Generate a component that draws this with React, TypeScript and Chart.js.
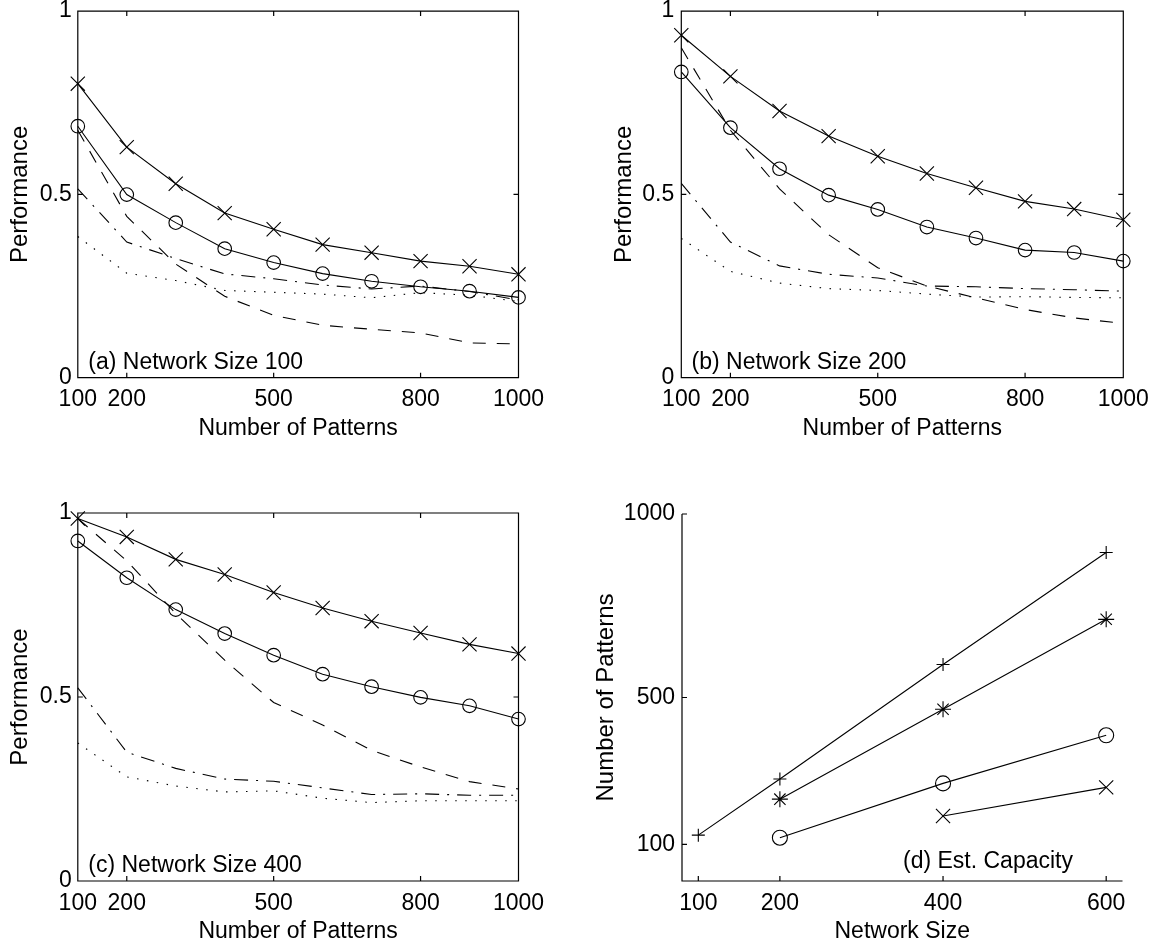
import React, { useEffect, useRef } from 'react';
import { Chart, registerables } from 'chart.js';

Chart.register(...registerables);

const FONT = '"Liberation Sans", Arial, Helvetica, sans-serif';

// ---------- data ----------
const patternCounts = [100, 200, 300, 400, 500, 600, 700, 800, 900, 1000];
const patternTicks = [100, 200, 500, 800, 1000];
const perfTicks = [0, 0.5, 1];

// (a) Network Size 100
const aCross = [0.802, 0.629, 0.529, 0.449, 0.405, 0.363, 0.341, 0.318, 0.304, 0.282];
const aCircle = [0.686, 0.4995, 0.423, 0.352, 0.314, 0.284, 0.263, 0.248, 0.236, 0.219];
const aDashed = [0.675, 0.44, 0.31, 0.222, 0.17, 0.143, 0.132, 0.122, 0.095, 0.092];
const aDashDot = [0.515, 0.37, 0.325, 0.283, 0.27, 0.253, 0.242, 0.25, 0.235, 0.212];
const aDotted = [0.385, 0.285, 0.265, 0.238, 0.233, 0.228, 0.218, 0.232, 0.225, 0.208];

// (b) Network Size 200
const bCross = [0.934, 0.822, 0.7275, 0.659, 0.604, 0.557, 0.518, 0.481, 0.46, 0.431];
const bCircle = [0.834, 0.682, 0.57, 0.498, 0.459, 0.411, 0.381, 0.348, 0.3415, 0.318];
const bDashed = [0.9, 0.675, 0.515, 0.39, 0.3, 0.25, 0.218, 0.186, 0.163, 0.148];
const bDashDot = [0.53, 0.37, 0.305, 0.282, 0.272, 0.25, 0.248, 0.243, 0.24, 0.236];
const bDotted = [0.38, 0.29, 0.258, 0.243, 0.238, 0.228, 0.22, 0.221, 0.219, 0.218];

// (c) Network Size 400
const cCross = [0.985, 0.935, 0.874, 0.833, 0.784, 0.742, 0.706, 0.674, 0.643, 0.618];
const cCircle = [0.924, 0.824, 0.7375, 0.6724, 0.6136, 0.562, 0.528, 0.499, 0.476, 0.44];
const cDashed = [0.985, 0.87, 0.727, 0.6, 0.485, 0.424, 0.355, 0.31, 0.27, 0.25];
const cDashDot = [0.525, 0.35, 0.306, 0.277, 0.271, 0.253, 0.235, 0.237, 0.233, 0.233];
const cDotted = [0.375, 0.283, 0.258, 0.242, 0.245, 0.225, 0.213, 0.218, 0.218, 0.218];

// (d) Est. Capacity
const networkSizes = [100, 200, 400, 600];
const networkTicks = [100, 200, 400, 600];
const capacityTicks = [100, 500, 1000];
const dPlus = [125, 278, 590, 895];
const dStar = [null, 223, 468, 713];
const dCircle = [null, 118, 266, 397];
const dCross = [null, null, 177, 255];

// ---------- helpers ----------
type Kind = 'cross' | 'circle' | 'plus' | 'star' | 'dashed' | 'dashdot' | 'dotted';

function pts(xs: number[], ys: (number | null)[]) {
  return xs
    .map((x, i) => ({ x, y: ys[i] }))
    .filter((p) => p.y !== null && p.y !== undefined);
}

function ds(data: any[], kind: Kind, r?: number) {
  const base: any = {
    data,
    borderColor: '#000',
    borderWidth: 1.1,
    pointBorderColor: '#000',
    pointBorderWidth: 1.1,
    pointBackgroundColor: 'rgba(0,0,0,0)',
    pointRadius: 0,
    pointHoverRadius: 0,
    fill: false,
    tension: 0,
    clip: false,
    showLine: true,
    borderCapStyle: 'butt',
  };
  switch (kind) {
    case 'cross':
      return { ...base, pointStyle: 'crossRot', pointRadius: r ?? 10 };
    case 'circle':
      return { ...base, pointStyle: 'circle', pointRadius: r ?? 6.8 };
    case 'plus':
      return { ...base, pointStyle: 'cross', pointRadius: r ?? 6.5 };
    case 'star':
      return { ...base, pointStyle: 'star', pointRadius: r ?? 8 };
    case 'dashed':
      return { ...base, borderDash: [13, 11] };
    case 'dashdot':
      return { ...base, borderDash: [14, 8, 2, 8] };
    case 'dotted':
      return { ...base, borderDash: [1.5, 8.5] };
  }
}

function perfSets(cross: number[], circle: number[], dashed: number[], dashdot: number[], dotted: number[]) {
  return [
    ds(pts(patternCounts, cross), 'cross'),
    ds(pts(patternCounts, circle), 'circle'),
    ds(pts(patternCounts, dashed), 'dashed'),
    ds(pts(patternCounts, dashdot), 'dashdot'),
    ds(pts(patternCounts, dotted), 'dotted'),
  ];
}

interface Panel {
  left: number; top: number; w: number; h: number;
  area: { l: number; t: number; r: number; b: number };
  xMin: number; xMax: number; xTicks: number[];
  yMin: number; yMax: number; yTicks: number[];
  xTitle: string; yTitle: string;
  xTickPad: number; yTickPad: number;
  xTitleY: number; yTitleX: number;
  box: boolean;
  label: string; labelDx: number; labelDy: number;
  datasets: any[];
}

const panels: Panel[] = [
  {
    left: 0, top: 0, w: 579, h: 470,
    area: { l: 77.8, t: 10.7, r: 518.5, b: 377.7 },
    xMin: 100, xMax: 1000, xTicks: patternTicks,
    yMin: 0, yMax: 1, yTicks: perfTicks,
    xTitle: 'Number of Patterns', yTitle: 'Performance',
    xTickPad: 8.5, yTickPad: 6, xTitleY: 428.5, yTitleX: 20.8,
    box: true, label: '(a) Network Size 100', labelDx: 10.5, labelDy: 8.7,
    datasets: perfSets(aCross, aCircle, aDashed, aDashDot, aDotted),
  },
  {
    left: 579, top: 0, w: 579, h: 470,
    area: { l: 102.3, t: 10.7, r: 544.3, b: 377.7 },
    xMin: 100, xMax: 1000, xTicks: patternTicks,
    yMin: 0, yMax: 1, yTicks: perfTicks,
    xTitle: 'Number of Patterns', yTitle: 'Performance',
    xTickPad: 8.5, yTickPad: 7, xTitleY: 428.5, yTitleX: 45.8,
    box: true, label: '(b) Network Size 200', labelDx: 10.3, labelDy: 8.7,
    datasets: perfSets(bCross, bCircle, bDashed, bDashDot, bDotted),
  },
  {
    left: 0, top: 470, w: 579, h: 481,
    area: { l: 77.8, t: 43, r: 518.5, b: 411 },
    xMin: 100, xMax: 1000, xTicks: patternTicks,
    yMin: 0, yMax: 1, yTicks: perfTicks,
    xTitle: 'Number of Patterns', yTitle: 'Performance',
    xTickPad: 8.5, yTickPad: 6, xTitleY: 461.5, yTitleX: 20.8,
    box: true, label: '(c) Network Size 400', labelDx: 10.5, labelDy: 8.7,
    datasets: perfSets(cCross, cCircle, cDashed, cDashDot, cDotted),
  },
  {
    left: 579, top: 470, w: 579, h: 481,
    area: { l: 103, t: 44, r: 543.5, b: 411 },
    xMin: 80, xMax: 620, xTicks: networkTicks,
    yMin: 0, yMax: 1000, yTicks: capacityTicks,
    xTitle: 'Network Size', yTitle: 'Number of Patterns',
    xTickPad: 8.5, yTickPad: 7, xTitleY: 461.5, yTitleX: 27,
    box: false, label: '(d) Est. Capacity', labelDx: 221, labelDy: 13,
    datasets: [
      ds(pts(networkSizes, dPlus), 'plus'),
      ds(pts(networkSizes, dStar), 'star'),
      ds(pts(networkSizes, dCircle), 'circle', 7.5),
      ds(pts(networkSizes, dCross), 'cross'),
    ],
  },
];

function framePlugin(p: Panel) {
  return {
    id: 'frame',
    afterDraw(chart: any) {
      const { ctx, chartArea: a } = chart;
      const xs = chart.scales.x;
      const ys = chart.scales.y;
      const T = 5;
      ctx.save();
      ctx.strokeStyle = '#000';
      ctx.lineWidth = 1.2;
      ctx.setLineDash([]);
      ctx.beginPath();
      if (p.box) {
        ctx.rect(a.left, a.top, a.right - a.left, a.bottom - a.top);
      } else {
        ctx.moveTo(a.left, a.top);
        ctx.lineTo(a.left, a.bottom);
        ctx.lineTo(a.right, a.bottom);
      }
      for (const v of p.xTicks) {
        const px = xs.getPixelForValue(v);
        ctx.moveTo(px, a.bottom);
        ctx.lineTo(px, a.bottom - T);
        if (p.box) {
          ctx.moveTo(px, a.top);
          ctx.lineTo(px, a.top + T);
        }
      }
      for (const v of p.yTicks) {
        const py = ys.getPixelForValue(v);
        ctx.moveTo(a.left, py);
        ctx.lineTo(a.left + T, py);
        if (p.box) {
          ctx.moveTo(a.right, py);
          ctx.lineTo(a.right - T, py);
        }
      }
      ctx.stroke();
      ctx.fillStyle = '#000';
      ctx.font = `23px ${FONT}`;
      ctx.textAlign = 'left';
      ctx.textBaseline = 'alphabetic';
      ctx.fillText(p.label, a.left + p.labelDx, a.bottom - p.labelDy);
      ctx.restore();
    },
  };
}

function buildConfig(p: Panel): any {
  const W = p.w;
  const H = p.h;
  const A = p.area;
  return {
    type: 'line',
    data: { datasets: p.datasets },
    options: {
      animation: false,
      responsive: false,
      maintainAspectRatio: false,
      devicePixelRatio: 1,
      events: [],
      layout: { padding: { left: 0, top: A.t, right: W - A.r, bottom: 0 } },
      plugins: {
        legend: { display: false },
        tooltip: { enabled: false },
        title: { display: false },
      },
      scales: {
        x: {
          type: 'linear',
          bounds: 'data',
          min: p.xMin,
          max: p.xMax,
          grid: { display: false, drawTicks: false },
          border: { display: false },
          ticks: {
            color: '#000',
            font: { family: FONT, size: 23 },
            padding: p.xTickPad,
            maxRotation: 0,
            minRotation: 0,
            autoSkip: false,
            callback: (v: any) => String(v),
          },
          afterBuildTicks: (s: any) => {
            s.ticks = p.xTicks.map((v) => ({ value: v }));
          },
          afterFit: (s: any) => {
            s.height = H - A.b;
            s.paddingLeft = 0;
            s.paddingRight = 0;
          },
          title: {
            display: true,
            text: p.xTitle,
            color: '#000',
            font: { family: FONT, size: 23 },
            padding: { top: 0, bottom: H - p.xTitleY - 13.8 },
          },
        },
        y: {
          type: 'linear',
          bounds: 'data',
          min: p.yMin,
          max: p.yMax,
          grid: { display: false, drawTicks: false },
          border: { display: false },
          ticks: {
            color: '#000',
            font: { family: FONT, size: 23 },
            padding: p.yTickPad,
            autoSkip: false,
            callback: (v: any) => String(v),
          },
          afterBuildTicks: (s: any) => {
            s.ticks = p.yTicks.map((v) => ({ value: v }));
          },
          afterFit: (s: any) => {
            s.width = A.l;
            s.paddingTop = 0;
            s.paddingBottom = 0;
          },
          title: {
            display: true,
            text: p.yTitle,
            color: '#000',
            font: { family: FONT, size: 24 },
            padding: { top: p.yTitleX - 14.4, bottom: 0 },
          },
        },
      },
    },
    plugins: [framePlugin(p)],
  };
}

export default function App() {
  const r0 = useRef<HTMLCanvasElement>(null);
  const r1 = useRef<HTMLCanvasElement>(null);
  const r2 = useRef<HTMLCanvasElement>(null);
  const r3 = useRef<HTMLCanvasElement>(null);
  const refs = [r0, r1, r2, r3];

  useEffect(() => {
    const charts = panels.map((p, i) => new Chart(refs[i].current as HTMLCanvasElement, buildConfig(p)));
    return () => charts.forEach((c) => c.destroy());
  }, []);

  return (
    <div
      style={{
        position: 'absolute',
        left: 0,
        top: 0,
        width: 1158,
        height: 951,
        background: '#fff',
        overflow: 'hidden',
      }}
    >
      {panels.map((p, i) => (
        <canvas
          key={i}
          ref={refs[i]}
          width={p.w}
          height={p.h}
          style={{ position: 'absolute', left: p.left, top: p.top, width: p.w, height: p.h, display: 'block' }}
        />
      ))}
    </div>
  );
}
